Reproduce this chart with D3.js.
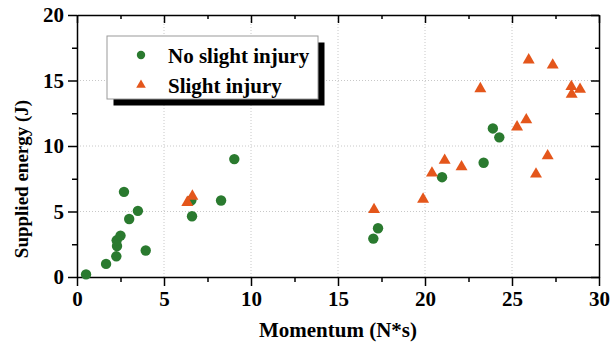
<!DOCTYPE html>
<html>
<head>
<meta charset="utf-8">
<script src="https://cdn.jsdelivr.net/npm/d3@7"></script>
<style>
  body { margin: 0; background: #fff; }
  text { font-family: "Liberation Serif", "Times New Roman", serif; font-weight: bold; }
</style>
</head>
<body>
<script>
// data
var noInjuryX = [0.52, 1.67, 2.26, 2.3, 2.28, 2.5, 2.7, 3.0, 3.5, 3.95, 6.61, 6.57, 8.28, 9.04,
                 17.03, 17.3, 20.98, 23.37, 23.9, 24.27];
var noInjuryY = [0.2, 1.0, 1.58, 2.37, 2.8, 3.16, 6.5, 4.43, 5.05, 2.02, 4.64, 5.86, 5.84, 9.0,
                 2.93, 3.72, 7.62, 8.72, 11.34, 10.66];
var injuryX = [6.34, 6.63, 17.07, 19.89, 20.4, 21.13, 22.1, 23.18, 25.29, 25.82, 25.96, 26.38,
               27.05, 27.34, 28.41, 28.43, 28.91];
var injuryY = [5.69, 6.17, 5.15, 5.94, 7.93, 8.9, 8.41, 14.37, 11.45, 12.0, 16.57, 7.85,
               9.25, 16.18, 14.53, 13.94, 14.32];
var xTicks = [0, 5, 10, 15, 20, 25, 30];
var yTicks = [0, 5, 10, 15, 20];
var xMinor = [2.5, 7.5, 12.5, 17.5, 22.5, 27.5];
var yMinor = [2.5, 7.5, 12.5, 17.5];
var seriesNames = ["No slight injury", "Slight injury"];

var green = "#2a7a2f", orange = "#e4561b";

// MARGIN
var margin = {top: 15, right: 16, bottom: 74, left: 77},
    width = 615 - margin.left - margin.right,
    height = 351 - margin.top - margin.bottom;

var svg = d3.select("body").append("svg")
    .attr("width", 615)
    .attr("height", 351);

var g = svg.append("g").attr("transform", "translate(" + margin.left + "," + margin.top + ")");

// scales
var x = d3.scaleLinear().domain([0, 30]).range([0, width]);
var y = d3.scaleLinear().domain([0, 20]).range([height, 0]);

// grid
g.selectAll(".gx").data(xTicks.slice(1, -1)).enter().append("line")
  .attr("x1", function(d){ return x(d); }).attr("x2", function(d){ return x(d); })
  .attr("y1", 0).attr("y2", height)
  .attr("stroke", "#c8c8c8").attr("stroke-dasharray", "1,2");
g.selectAll(".gy").data(yTicks.slice(1, -1)).enter().append("line")
  .attr("y1", function(d){ return y(d); }).attr("y2", function(d){ return y(d); })
  .attr("x1", 0).attr("x2", width)
  .attr("stroke", "#c8c8c8").attr("stroke-dasharray", "1,2");

// axes helper
function styleAxis(sel){
  sel.attr("font-family", "'Liberation Serif', serif").attr("font-size", 21).attr("font-weight", "bold");
  sel.selectAll("path, line").attr("stroke", "#000").attr("stroke-width", 1.5);
  sel.selectAll("text").attr("fill", "#000");
}

// bottom
var xb = g.append("g").attr("transform", "translate(0," + height + ")")
  .call(d3.axisBottom(x).tickValues(xTicks).tickSizeInner(9).tickSizeOuter(0).tickPadding(5));
styleAxis(xb);
var xbm = g.append("g").attr("transform", "translate(0," + height + ")")
  .call(d3.axisBottom(x).tickValues(xMinor).tickSize(5).tickFormat(""));
styleAxis(xbm);
xbm.select(".domain").remove();

// left
var yl = g.append("g")
  .call(d3.axisLeft(y).tickValues(yTicks).tickSizeInner(9).tickSizeOuter(0).tickPadding(4));
styleAxis(yl);
var ylm = g.append("g")
  .call(d3.axisLeft(y).tickValues(yMinor).tickSize(5).tickFormat(""));
styleAxis(ylm);
ylm.select(".domain").remove();

// top (ticks inward)
var xt = g.append("g")
  .call(d3.axisTop(x).tickValues(xTicks).tickSizeInner(-8).tickSizeOuter(0).tickFormat(""));
styleAxis(xt);
var xtm = g.append("g")
  .call(d3.axisTop(x).tickValues(xMinor).tickSize(-4).tickFormat(""));
styleAxis(xtm);
xtm.select(".domain").remove();

// right (ticks inward)
var yr = g.append("g").attr("transform", "translate(" + width + ",0)")
  .call(d3.axisRight(y).tickValues(yTicks).tickSizeInner(-8).tickSizeOuter(0).tickFormat(""));
styleAxis(yr);
var yrm = g.append("g").attr("transform", "translate(" + width + ",0)")
  .call(d3.axisRight(y).tickValues(yMinor).tickSize(-4).tickFormat(""));
styleAxis(yrm);
yrm.select(".domain").remove();

// points
var circles = noInjuryX.map(function(d, i){ return [d, noInjuryY[i]]; });
var tris = injuryX.map(function(d, i){ return [d, injuryY[i]]; });

g.selectAll("circle.pt").data(circles).enter().append("circle")
  .attr("class", "pt")
  .attr("cx", function(d){ return x(d[0]); })
  .attr("cy", function(d){ return y(d[1]); })
  .attr("r", 5.2)
  .attr("fill", green);

var triPath = d3.symbol().type(d3.symbolTriangle).size(62);
g.selectAll("path.tri").data(tris).enter().append("path")
  .attr("class", "tri")
  .attr("d", triPath)
  .attr("transform", function(d){ return "translate(" + x(d[0]) + "," + y(d[1]) + ")"; })
  .attr("fill", orange);

// legend
var leg = svg.append("g");
leg.append("rect").attr("x", 113.5).attr("y", 42.5).attr("width", 211).attr("height", 63).attr("fill", "#000");
leg.append("rect").attr("x", 107).attr("y", 36).attr("width", 211).attr("height", 63)
  .attr("fill", "#fff").attr("stroke", "#9a9a9a").attr("stroke-width", 1);
leg.append("circle").attr("cx", 141).attr("cy", 55).attr("r", 4.2).attr("fill", green);
leg.append("path").attr("d", d3.symbol().type(d3.symbolTriangle).size(40))
  .attr("transform", "translate(141,85)").attr("fill", orange);
leg.selectAll("text.lg").data(seriesNames).enter().append("text")
  .attr("class", "lg")
  .attr("x", 168)
  .attr("y", function(d, i){ return 63 + i * 30; })
  .style("font-size", "21px")
  .text(function(d){ return d; });

// axis titles
svg.append("text")
  .attr("x", margin.left + width / 2)
  .attr("y", 337)
  .attr("text-anchor", "middle")
  .style("font-size", "21px")
  .text("Momentum (N*s)");

svg.append("text")
  .attr("transform", "translate(28,179) rotate(-90)")
  .attr("text-anchor", "middle")
  .style("font-size", "19px")
  .text("Supplied energy (J)");
</script>
</body>
</html>
